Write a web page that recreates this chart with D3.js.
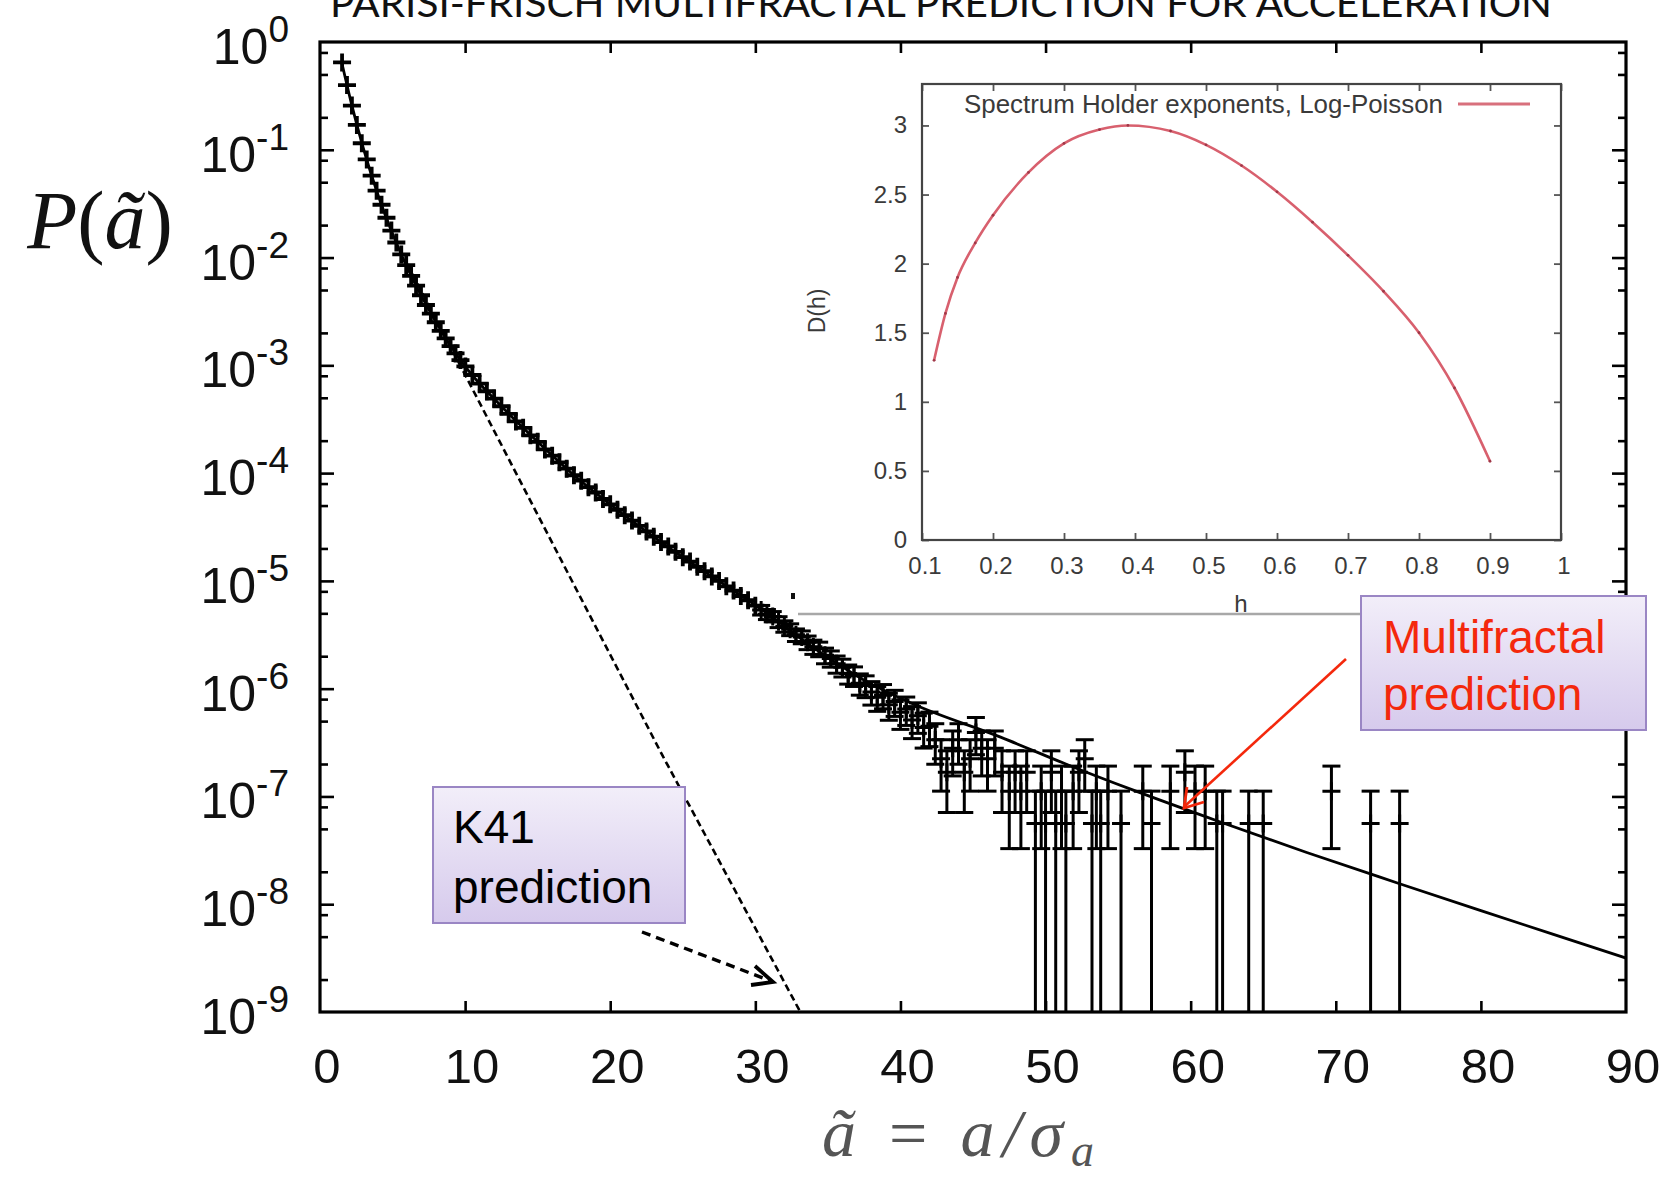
<!DOCTYPE html>
<html><head><meta charset="utf-8">
<script src="https://cdn.jsdelivr.net/npm/d3@7"></script>
<style>body{margin:0;background:#fff}svg{display:block}</style>
</head><body>
<svg id="c" width="1669" height="1179"></svg>
<script>
// ---------- DATA ----------
const xTickValues = [0,10,20,30,40,50,60,70,80,90];
const yMajorValues = [1,1e-1,1e-2,1e-3,1e-4,1e-5,1e-6,1e-7,1e-8,1e-9];
const yMajorExponents = ["0","-1","-2","-3","-4","-5","-6","-7","-8","-9"];

// measured PDF points (dense part, no visible error bars)
const denseA = [1.52,1.86,2.20,2.54,2.88,3.22,3.56,3.90,4.24,4.58,4.92,5.26,5.60,5.94,6.28,6.62,6.96,7.30,7.64,7.98,8.32,8.66,9.00,9.34,9.68,10.02,
  10.5,11.0,11.5,12.0,12.5,13.0,13.5,14.0,14.5,15.0,15.5,16.0,16.5,17.0,17.5,18.0,18.5,19.0,19.5,20.0,20.5,21.0,21.5,22.0,22.5,23.0,23.5,24.0,24.5,25.0,25.5,26.0,26.5,27.0,27.5,28.0,28.5,29.0,29.5,30.0];
const denseP = [0.646,0.398,0.257,0.170,0.115,8.13e-2,5.75e-2,4.17e-2,3.09e-2,2.34e-2,1.78e-2,1.38e-2,1.07e-2,8.51e-3,6.76e-3,5.50e-3,4.47e-3,3.63e-3,3.02e-3,2.51e-3,2.09e-3,1.78e-3,1.51e-3,1.29e-3,1.12e-3,9.77e-4,
  8.13e-4,6.76e-4,5.75e-4,4.90e-4,4.17e-4,3.55e-4,3.02e-4,2.63e-4,2.24e-4,1.95e-4,1.66e-4,1.45e-4,1.26e-4,1.10e-4,9.55e-5,8.51e-5,7.41e-5,6.61e-5,5.75e-5,5.13e-5,4.57e-5,4.07e-5,3.63e-5,3.24e-5,2.88e-5,2.57e-5,2.29e-5,2.09e-5,1.86e-5,1.66e-5,1.51e-5,1.35e-5,1.23e-5,1.10e-5,1.00e-5,8.91e-6,8.13e-6,7.24e-6,6.61e-6,5.89e-6];

// measured PDF points with visible error bars (value ± error)
const barA = [30.4,30.8,31.2,31.6,32.0,32.4,32.8,33.2,33.6,34.0,34.4,34.8,35.2,35.6,36.0,36.4,36.8,37.2,37.6,38.0,38.4,38.8,39.2,39.6,40.0,40.4,40.8,41.2,41.6,
  42.0,42.4,42.8,43.2,43.6,44.0,44.4,44.8,45.2,45.6,46.0,46.5,47.0,47.5,47.9,48.3,48.7,49.3,49.7,50.0,50.4,50.7,51.1,51.4,51.9,52.3,52.7,53.2,53.5,53.8,54.3,55.2,56.7,57.3,58.6,59.6,60.3,61.0,61.8,62.2,64.0,65.0,69.7,72.4,74.4];
const barP = [5.37e-6,4.90e-6,4.68e-6,4.17e-6,3.80e-6,3.55e-6,3.16e-6,3.02e-6,2.69e-6,2.45e-6,2.34e-6,2.04e-6,1.91e-6,1.70e-6,1.58e-6,1.38e-6,1.32e-6,1.12e-6,1.07e-6,9.33e-7,8.32e-7,8.71e-7,7.08e-7,7.59e-7,6.03e-7,6.46e-7,5.13e-7,5.62e-7,4.37e-7,
  4.48e-7,3.36e-7,2.24e-7,1.68e-7,2.80e-7,3.36e-7,1.68e-7,2.24e-7,3.92e-7,2.80e-7,2.24e-7,2.80e-7,1.68e-7,1.12e-7,1.68e-7,1.12e-7,1.68e-7,5.6e-8,1.12e-7,5.6e-8,1.68e-7,5.6e-8,1.12e-7,5.6e-8,1.12e-7,1.68e-7,2.24e-7,5.6e-8,1.12e-7,5.6e-8,1.12e-7,5.6e-8,1.12e-7,5.6e-8,1.12e-7,1.68e-7,1.12e-7,1.12e-7,5.6e-8,5.6e-8,5.6e-8,5.6e-8,1.12e-7,5.6e-8,5.6e-8];
const barErr = [5.48e-7,5.24e-7,5.12e-7,4.83e-7,4.61e-7,4.46e-7,4.21e-7,4.11e-7,3.88e-7,3.70e-7,3.62e-7,3.38e-7,3.27e-7,3.09e-7,2.97e-7,2.78e-7,2.72e-7,2.50e-7,2.45e-7,2.29e-7,2.16e-7,2.21e-7,1.99e-7,2.06e-7,1.84e-7,1.90e-7,1.69e-7,1.77e-7,1.56e-7,
  1.58e-7,1.37e-7,1.12e-7,9.70e-8,1.25e-7,1.37e-7,9.70e-8,1.12e-7,1.48e-7,1.25e-7,1.12e-7,1.25e-7,9.70e-8,7.92e-8,9.70e-8,7.92e-8,9.70e-8,5.6e-8,7.92e-8,5.6e-8,9.70e-8,5.6e-8,7.92e-8,5.6e-8,7.92e-8,9.70e-8,1.12e-7,5.6e-8,7.92e-8,5.6e-8,7.92e-8,5.6e-8,7.92e-8,5.6e-8,7.92e-8,9.70e-8,7.92e-8,7.92e-8,5.6e-8,5.6e-8,5.6e-8,5.6e-8,7.92e-8,5.6e-8,5.6e-8];

// multifractal prediction (solid line)
const mfA = [1.5,2.2,3.0,4.0,5.0,6.0,8.0,10,12.5,15,17.5,20,23.5,27,30.5,34,37.5,41,46.9,51.6,56,61.9,68,74.4,80,85,90];
const mfP = [0.646,0.257,0.102,3.80e-2,1.66e-2,8.13e-3,2.51e-3,9.77e-4,4.17e-4,1.95e-4,9.55e-5,5.13e-5,2.29e-5,1.10e-5,5.37e-6,2.40e-6,1.20e-6,7.08e-7,3.55e-7,1.95e-7,1.15e-7,5.89e-8,3.02e-8,1.55e-8,8.71e-9,5.25e-9,3.16e-9];

// K41 prediction (dashed line)
const k41A = [6, 9.5, 23.6, 33.1];
const k41P = [8.71e-3, 1.10e-3, 2.40e-7, 1.0e-9];

// inset: multifractal spectrum D(h), Log-Poisson
const insetH = [0.117,0.133,0.15,0.175,0.2,0.25,0.3,0.35,0.39,0.45,0.5,0.55,0.6,0.65,0.7,0.75,0.8,0.85,0.9];
const insetD = [1.30,1.64,1.90,2.15,2.35,2.66,2.87,2.97,3.00,2.96,2.86,2.71,2.52,2.30,2.06,1.80,1.50,1.10,0.57];
const insetXTicks = [0.1,0.2,0.3,0.4,0.5,0.6,0.7,0.8,0.9,1];
const insetYTicks = [0,0.5,1,1.5,2,2.5,3];

// ---------- DRAW ----------
const svg = d3.select("#c");
const x = d3.scaleLinear().domain([0,90]).range([320,1626]);
const y = d3.scaleLog().domain([1e-9,1]).range([1012,42]);

// title (cut at top, as in the source slide)
svg.append("text").attr("x",330).attr("y",17).attr("textLength",1222).attr("lengthAdjust","spacingAndGlyphs")
  .attr("font-family","Lato, 'Open Sans', sans-serif").attr("font-weight",400).attr("font-size",38).attr("fill","#111")
  .text("PARISI-FRISCH MULTIFRACTAL PREDICTION FOR ACCELERATION");

// axes ticks (inward)
const minorVals = [];
for (let e=0;e>-9;e--) [0.8,0.5,0.2].forEach(m=>minorVals.push(m*Math.pow(10,e)));
function styleAxis(g){ g.select(".domain").remove(); g.selectAll("line").attr("stroke","#000").attr("stroke-width",2.6); g.selectAll("text").remove(); }
svg.append("g").attr("transform","translate(0,1012)").call(d3.axisBottom(x).tickValues(xTickValues.slice(1,-1)).tickSizeInner(-11).tickSizeOuter(0)).call(styleAxis);
svg.append("g").attr("transform","translate(0,42)").call(d3.axisTop(x).tickValues(xTickValues.slice(1,-1)).tickSizeInner(-11).tickSizeOuter(0)).call(styleAxis);
svg.append("g").attr("transform","translate(320,0)").call(d3.axisLeft(y).tickValues(yMajorValues.slice(1,-1)).tickSizeInner(-14).tickSizeOuter(0)).call(styleAxis);
svg.append("g").attr("transform","translate(1626,0)").call(d3.axisRight(y).tickValues(yMajorValues.slice(1,-1)).tickSizeInner(-14).tickSizeOuter(0)).call(styleAxis);
svg.append("g").attr("transform","translate(320,0)").call(d3.axisLeft(y).tickValues(minorVals).tickSizeInner(-8).tickSizeOuter(0)).call(styleAxis);
svg.append("g").attr("transform","translate(1626,0)").call(d3.axisRight(y).tickValues(minorVals).tickSizeInner(-8).tickSizeOuter(0)).call(styleAxis);

// tick labels
const sans = "'Liberation Sans', Arial, sans-serif";
svg.append("g").selectAll("text").data(xTickValues).join("text")
  .attr("x",d=>x(d)+7).attr("y",1083).attr("text-anchor","middle")
  .attr("font-family",sans).attr("font-size",49).attr("fill","#111").text(d=>d);
const yl = svg.append("g").selectAll("text").data(yMajorValues).join("text")
  .attr("x",289).attr("y",d=>y(d)+22).attr("text-anchor","end")
  .attr("font-family",sans).attr("fill","#111");
yl.append("tspan").attr("font-size",50).text("10");
yl.append("tspan").attr("font-size",37).attr("dy",-22).text((d,i)=>yMajorExponents[i]);

// axis titles
const serif = "'Liberation Serif', 'DejaVu Serif', serif";
const xt = svg.append("text").attr("x",822).attr("y",1156).attr("textLength",272).attr("lengthAdjust","spacing")
  .attr("font-family",serif).attr("fill","#555").attr("font-size",68);
xt.append("tspan").attr("font-style","italic").text("ã");
xt.append("tspan").text(" = ");
xt.append("tspan").attr("font-style","italic").text("a/σ");
xt.append("tspan").attr("font-style","italic").attr("font-size",46).attr("dy",10).text("a");
const ytl = svg.append("text").attr("x",100).attr("y",248).attr("text-anchor","middle")
  .attr("font-family",serif).attr("font-size",82).attr("fill","#111");
ytl.append("tspan").attr("font-style","italic").text("P");
ytl.append("tspan").text("(");
ytl.append("tspan").attr("font-style","italic").text("ã");
ytl.append("tspan").text(")");

// inset decoration (grey edge of pasted image)
svg.append("line").attr("x1",798).attr("x2",1375).attr("y1",614).attr("y2",614).attr("stroke","#a8a8a8").attr("stroke-width",2.5);
svg.append("rect").attr("x",791).attr("y",593).attr("width",4).attr("height",6).attr("fill","#111");

// multifractal line
svg.append("path").datum(mfA).attr("d",d3.line().x(d=>x(d)).y((d,i)=>y(mfP[i])).curve(d3.curveMonotoneX))
  .attr("fill","none").attr("stroke","#000").attr("stroke-width",2.8);
// K41 dashed
svg.append("path").datum(k41A).attr("d",d3.line().x(d=>x(d)).y((d,i)=>y(k41P[i])))
  .attr("fill","none").attr("stroke","#000").attr("stroke-width",2.6).attr("stroke-dasharray","7,4");

// dense markers
const plus = "M-9,0H9M0,-9V9";
svg.append("g").selectAll("path").data(denseA).join("path")
  .attr("d",plus).attr("transform",(d,i)=>`translate(${x(d)},${y(denseP[i])})`)
  .attr("stroke","#000").attr("stroke-width",3.8).attr("fill","none");
// error bar points
const eb = svg.append("g").attr("stroke","#000").attr("stroke-width",3).attr("fill","none");
barA.forEach((a,i)=>{
  const px = x(a), p = barP[i], e = barErr[i];
  const yHi = y(p+e), yLo = (p-e) > 1e-9 ? y(p-e) : 1012;
  eb.append("line").attr("x1",px).attr("x2",px).attr("y1",yHi).attr("y2",yLo);
  eb.append("line").attr("x1",px-9).attr("x2",px+9).attr("y1",yHi).attr("y2",yHi);
  if (yLo < 1012) eb.append("line").attr("x1",px-9).attr("x2",px+9).attr("y1",yLo).attr("y2",yLo);
  eb.append("path").attr("d",plus).attr("transform",`translate(${px},${y(p)})`);
});

// frame
svg.append("rect").attr("x",320).attr("y",42).attr("width",1306).attr("height",970)
  .attr("fill","none").attr("stroke","#000").attr("stroke-width",3.2);

// ---------- INSET ----------
const xi = d3.scaleLinear().domain([0.1,1]).range([922,1561]);
const yi = d3.scaleLinear().domain([0,3.3]).range([540,84]);
const ig = svg.append("g");
function styleInset(g){ g.select(".domain").remove(); g.selectAll("line").attr("stroke","#555").attr("stroke-width",1.8); g.selectAll("text").remove(); }
ig.append("g").attr("transform","translate(0,540)").call(d3.axisBottom(xi).tickValues(insetXTicks).tickSizeInner(-7).tickSizeOuter(0)).call(styleInset);
ig.append("g").attr("transform","translate(0,84)").call(d3.axisTop(xi).tickValues(insetXTicks).tickSizeInner(-7).tickSizeOuter(0)).call(styleInset);
ig.append("g").attr("transform","translate(922,0)").call(d3.axisLeft(yi).tickValues(insetYTicks).tickSizeInner(-7).tickSizeOuter(0)).call(styleInset);
ig.append("g").attr("transform","translate(1561,0)").call(d3.axisRight(yi).tickValues(insetYTicks).tickSizeInner(-7).tickSizeOuter(0)).call(styleInset);
ig.append("rect").attr("x",922).attr("y",84).attr("width",639).attr("height",456).attr("fill","none").attr("stroke","#444").attr("stroke-width",2.2);
ig.append("g").selectAll("text").data(insetXTicks).join("text")
  .attr("x",d=>xi(d)+3).attr("y",574).attr("text-anchor","middle")
  .attr("font-family",sans).attr("font-size",24).attr("fill","#3a3a3a").text(d=>d);
ig.append("g").selectAll("text").data(insetYTicks).join("text")
  .attr("x",907).attr("y",d=>yi(d)+8).attr("text-anchor","end")
  .attr("font-family",sans).attr("font-size",24).attr("fill","#3a3a3a").text(d=>d);
ig.append("text").attr("transform","translate(825,311) rotate(-90)").attr("text-anchor","middle")
  .attr("font-family",sans).attr("font-size",23).attr("fill","#3a3a3a").text("D(h)");
ig.append("text").attr("x",1241).attr("y",612).attr("text-anchor","middle")
  .attr("font-family",sans).attr("font-size",24).attr("fill","#3a3a3a").text("h");
ig.append("text").attr("x",964).attr("y",113).attr("textLength",479).attr("lengthAdjust","spacingAndGlyphs")
  .attr("font-family",sans).attr("font-size",25).attr("fill","#3a3a3a")
  .text("Spectrum Holder exponents, Log-Poisson");
ig.append("line").attr("x1",1458).attr("x2",1530).attr("y1",104).attr("y2",104).attr("stroke","#d8707c").attr("stroke-width",2.8);
ig.append("path").datum(insetH).attr("d",d3.line().x(d=>xi(d)).y((d,i)=>yi(insetD[i])).curve(d3.curveMonotoneX))
  .attr("fill","none").attr("stroke","#d8606e").attr("stroke-width",2.6);
ig.append("g").selectAll("circle").data(insetH).join("circle")
  .attr("cx",d=>xi(d)).attr("cy",(d,i)=>yi(insetD[i])).attr("r",1.4).attr("fill","#a03848");

// ---------- ANNOTATIONS ----------
const defs = svg.append("defs");
const grad = defs.append("linearGradient").attr("id","boxg").attr("x1",0).attr("y1",0).attr("x2",0).attr("y2",1);
grad.append("stop").attr("offset","0%").attr("stop-color","#f2eef9");
grad.append("stop").attr("offset","100%").attr("stop-color","#d6caec");

// K41 box
svg.append("rect").attr("x",433).attr("y",787).attr("width",252).attr("height",136)
  .attr("fill","url(#boxg)").attr("stroke","#9a86c4").attr("stroke-width",2);
svg.append("text").attr("x",453).attr("y",843).attr("font-family",sans).attr("font-size",46).attr("fill","#000").text("K41");
svg.append("text").attr("x",453).attr("y",903).attr("font-family",sans).attr("font-size",46).attr("fill","#000").text("prediction");
// K41 dashed arrow
svg.append("line").attr("x1",642).attr("y1",932).attr("x2",771).attr("y2",981).attr("stroke","#000").attr("stroke-width",3.4).attr("stroke-dasharray","9,6");
svg.append("path").attr("d","M755,966 L773,982 L751,985").attr("fill","none").attr("stroke","#000").attr("stroke-width",3.8);

// Multifractal box
svg.append("rect").attr("x",1361).attr("y",596).attr("width",285).attr("height",134)
  .attr("fill","url(#boxg)").attr("stroke","#9a86c4").attr("stroke-width",2);
svg.append("text").attr("x",1383).attr("y",653).attr("font-family",sans).attr("font-size",46).attr("fill","#f4280c").text("Multifractal");
svg.append("text").attr("x",1383).attr("y",710).attr("font-family",sans).attr("font-size",46).attr("fill","#f4280c").text("prediction");
// red arrow
svg.append("line").attr("x1",1346).attr("y1",659).attr("x2",1185).attr("y2",806).attr("stroke","#f4280c").attr("stroke-width",2.6);
svg.append("path").attr("d","M1187,787 L1184,808 L1204,802").attr("fill","none").attr("stroke","#f4280c").attr("stroke-width",2.8);
</script>
</body></html>
